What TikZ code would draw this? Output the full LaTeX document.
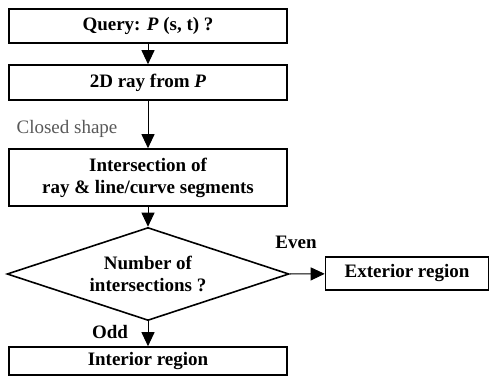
\documentclass[tikz,border=0pt]{standalone}
\usepackage{fontspec}
\setmainfont{Liberation Serif}
\usetikzlibrary{shapes.geometric,arrows.meta}
\tikzset{
  stepbox/.style={draw,line width=1.6pt,minimum width=278pt,inner sep=0pt,
    font=\fontsize{19}{22}\selectfont\bfseries,align=center},
  flow/.style={line width=1pt,-{Triangle[width=13pt,length=14pt]}},
  lbl/.style={font=\fontsize{19}{22}\selectfont\bfseries}
}
\begin{document}
\begin{tikzpicture}[x=1pt,y=-1pt]
      \useasboundingbox (0,0) rectangle (490,385);
      \node[stepbox,minimum height=34pt] (query) at (148,26) {Query: \textit{P} (s, t) ?};
      \node[stepbox,minimum height=35pt] (ray) at (148,82.5) {2D ray from \textit{P}};
      \node[stepbox,minimum height=57pt] (inter) at (148,177.5)
        {Intersection of\\ray \& line/curve segments};
      \node[draw,diamond,line width=1.6pt,aspect=3,inner sep=0pt,
        minimum width=282pt,minimum height=93pt,align=center,
        font=\fontsize{19}{22}\selectfont\bfseries] (decide) at (148,274)
        {Number of\\intersections ?};
      \node[stepbox,minimum height=28pt] (interior) at (148,361) {Interior region};
      \node[stepbox,minimum width=163pt,minimum height=33pt] (exterior) at (407,273.5)
        {Exterior region};

      \draw[flow] (query) -- (ray);
      \draw[flow] (ray) -- (inter);
      \draw[flow] (inter) -- (decide);
      \draw[flow] (decide) -- (interior);
      \draw[flow] (decide.east) -- (exterior);

      \node[font=\fontsize{19}{22}\selectfont,black!65] (closed) at (67,129) {Closed shape};
      \node[lbl] (even) at (296,242) {Even};
      \node[lbl] (odd) at (110,332) {Odd};
    \end{tikzpicture}
\end{document}
